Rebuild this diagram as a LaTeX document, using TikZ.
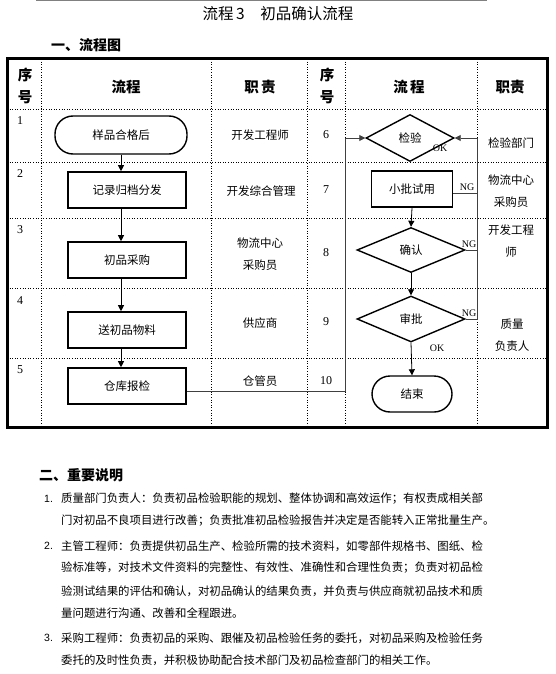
\documentclass[tikz,border=0pt]{standalone}
\usepackage{fontspec}
\setmainfont{Noto Sans CJK SC}
\newfontfamily\numfont{Liberation Serif}
\newfontfamily\latfont{Liberation Sans}
\usetikzlibrary{arrows.meta,shapes.geometric,positioning,calc}

\begin{document}
\begin{tikzpicture}[x=1pt,y=-1pt,
  every node/.style={font=\fontsize{11.5}{14}\selectfont, inner sep=1pt},
  procbox/.style={draw, line width=1.6pt, minimum width=118pt, minimum height=36pt},
  termbox/.style={draw, line width=1.4pt, rounded corners=18pt, minimum height=38pt},
  decbox/.style={draw, diamond, line width=1.4pt, aspect=2, inner sep=0pt},
  flow/.style={-{Triangle[width=6pt,length=6pt]}, line width=0.8pt},
  grid/.style={dotted, line width=0.6pt},
  hd/.style={font=\fontsize{14.5}{22}\selectfont\bfseries, align=center},
  num/.style={font=\fontsize{12}{14}\numfont},
  tag/.style={font=\fontsize{10}{11}\numfont, inner sep=0pt},
  duty/.style={align=center, font=\fontsize{11.5}{22.5}\selectfont},
  note/.style={anchor=west, font=\fontsize{11.4}{13}\selectfont, inner sep=0pt}]
\useasboundingbox (0,0) rectangle (556,674);

% title
\draw[gray, line width=1pt] (36,1) -- (487,1);
\node (title) at (278,14) {\fontsize{15.5}{18}\selectfont 流程\,3\quad 初品确认流程};
\node[anchor=west, font=\fontsize{14}{16}\selectfont\bfseries] (part1) at (50,45) {一、流程图};

% table
\foreach \y in {109,162,218,288,358}
  \draw[grid] (7,\y) -- (547,\y);
\foreach \x in {41,211,307,345,477}
  \draw[grid] (\x,59) -- (\x,427);
\draw[line width=3pt] (7,59) rectangle (547,427);

\node[hd] (h1) at (25,86) {序\\号};
\node[hd] (h2) at (126,87) {流程};
\node[hd] (h3) at (260,87) {职\,责};
\node[hd] (h4) at (327,86) {序\\号};
\node[hd] (h5) at (409,87) {流\,程};
\node[hd] (h6) at (510,87) {职责};

\foreach \n/\y in {1/121,2/174,3/230,4/301,5/370}
  \node[num] (n\n) at (20,\y) {\n};
\foreach \n/\y in {6/135,7/190,8/253,9/322,10/381}
  \node[num] (n\n) at (326,\y) {\n};

\node[duty] (d1) at (260,135) {开发工程师};
\node[duty] (d2) at (261,191) {开发综合管理};
\node[duty] (d3) at (260,254) {物流中心\\采购员};
\node[duty] (d4) at (260,323) {供应商};
\node[duty] (d5) at (260,381) {仓管员};
\node[duty] (d6) at (511,143) {检验部门};
\node[duty] (d7) at (511,191) {物流中心\\采购员};
\node[duty] (d8) at (511,241) {开发工程\\师};
\node[duty] (d9) at (512,335) {质量\\负责人};

% left flow
\node[termbox, minimum width=132pt] (yp) at (121,135) {样品合格后};
\node[procbox] (jl) at (127,190) {记录归档分发};
\node[procbox] (cg) at (127,260) {初品采购};
\node[procbox] (sl) at (127,330) {送初品物料};
\node[procbox] (ck) at (127,386) {仓库报检};

\draw[flow] (yp.south) -- (yp.south |- jl.north);
\draw[flow] (jl.south -| yp.south) -- (yp.south |- cg.north);
\draw[flow] (cg.south -| yp.south) -- (yp.south |- sl.north);
\draw[flow] (sl.south -| yp.south) -- (yp.south |- ck.north);

% right flow
\node[decbox, minimum width=88pt, minimum height=47pt] (jy) at (410,138) {检验};
\node[procbox, minimum width=81pt] (sp) at (412,189) {小批试用};
\node[decbox, minimum width=108pt, minimum height=45pt] (qr) at (411,250) {确认};
\node[decbox, minimum width=108pt, minimum height=46pt] (sh) at (411,319) {审批};
\node[termbox, minimum width=80pt, minimum height=36pt] (js) at (412,394) {结束};

\draw[flow] (sp.south) -- (qr.north);
\draw[flow] (qr.south) -- (sh.north);
\draw[flow] (sh.south) -- (js.north);

\coordinate (lp) at (345,138);
\coordinate (ng) at (477,138);
\draw[flow, black!75] ($(ck.east)+(0,5)$) -| (lp) -- (jy.west);
\draw[black!75, line width=0.8pt] ($(sp.east)+(0,4)$) -- ($(sp.east -| ng)+(0,4)$);
\draw[black!75, line width=0.8pt] (qr.east) -- (qr.east -| ng);
\draw[flow, black!75] (sh.east) -| (ng) -- (jy.east);

\node[tag] (ok1) at (440,148) {OK};
\node[tag] (ng1) at (467,187) {NG};
\node[tag] (ng2) at (469,244) {NG};
\node[tag] (ng3) at (469,313) {NG};
\node[tag] (ok2) at (437,348) {OK};

% notes
\node[anchor=west, font=\fontsize{14}{16}\selectfont\bfseries] (part2) at (38,475) {二、重要说明};
\foreach \n/\y in {1/499,2/546,3/638}
  \node[anchor=west, font=\fontsize{10.5}{12}\latfont] (k\n) at (43,\y) {\n.};
\node[note] (t1) at (61,499) {质量部门负责人：负责初品检验职能的规划、整体协调和高效运作；有权责成相关部};
\node[note] (t2) at (61,521) {门对初品不良项目进行改善；负责批准初品检验报告并决定是否能转入正常批量生产。};
\node[note] (t3) at (61,546) {主管工程师：负责提供初品生产、检验所需的技术资料，如零部件规格书、图纸、检};
\node[note] (t4) at (61,568) {验标准等，对技术文件资料的完整性、有效性、准确性和合理性负责；负责对初品检};
\node[note] (t5) at (61,591) {验测试结果的评估和确认，对初品确认的结果负责，并负责与供应商就初品技术和质};
\node[note] (t6) at (61,613) {量问题进行沟通、改善和全程跟进。};
\node[note] (t7) at (61,638) {采购工程师：负责初品的采购、跟催及初品检验任务的委托，对初品采购及检验任务};
\node[note] (t8) at (61,660) {委托的及时性负责，并积极协助配合技术部门及初品检查部门的相关工作。};
\end{tikzpicture}
\end{document}
